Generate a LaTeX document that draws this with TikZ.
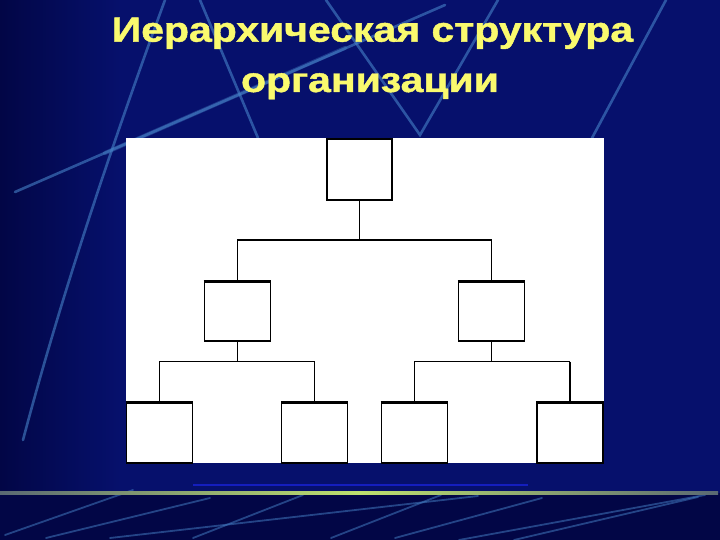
\documentclass[tikz,border=0pt]{standalone}
\usepackage{fontspec}
\setmainfont{Liberation Sans}
\newfontfamily\titlefont[FakeBold=1.2]{Liberation Sans Bold}
\usetikzlibrary{calc}
\definecolor{bgnavy}{RGB}{6,16,108}
\definecolor{bgdark}{RGB}{2,6,70}
\definecolor{streak}{RGB}{70,130,200}
\definecolor{titleyellow}{RGB}{250,250,110}
\definecolor{glineg}{RGB}{90,105,115}
\definecolor{gliney}{RGB}{190,225,110}
\tikzset{
  box/.style={draw=black, fill=white, line width=1.3pt, rectangle, inner sep=0pt},
  topbox/.style={box, minimum width=65pt, minimum height=61pt},
  midbox/.style={box, minimum width=66pt, minimum height=59pt},
  leafbox/.style={box, minimum width=66pt, minimum height=60pt},
  conn/.style={line width=1.3pt, black},
  bar/.style={line width=2pt, black},
  streakline/.style={draw=streak, line width=2.6pt, opacity=0.6, line cap=round},
  faint/.style={draw=streak, line width=1.8pt, opacity=0.5, line cap=round},
  titletext/.style={font=\fontsize{35}{40}\titlefont, anchor=base, inner sep=0pt, text=titleyellow}
}
\begin{document}
\begin{tikzpicture}[x=1pt,y=-1pt]
\useasboundingbox (0,0) rectangle (720,540);
% background
\fill[bgnavy] (0,0) rectangle (720,493);
\shade[left color=bgdark, right color=bgnavy] (0,0) rectangle (120,493);
\fill[bgdark] (0,493) rectangle (720,540);
% streaks
\draw[streakline] (165,0) .. controls (110,150) and (60,300) .. (23,440);
\draw[streakline] (15,192) -- (445,5);
\draw[streakline, line width=4pt, opacity=0.35] (105,153) -- (345,48);
\draw[streakline] (200,0) -- (258,138);
\draw[streakline] (326,0) -- (420,135) -- (498,0);
\draw[streakline] (666,0) -- (592,138);
% bottom streaks
\draw[faint] (5,535) -- (133,490);
\draw[faint] (46,538) -- (210,498);
\draw[faint] (110,538) -- (478,496);
\draw[faint] (193,538) -- (303,495);
\draw[faint] (331,538) -- (441,495);
\draw[faint] (395,538) -- (542,498);
\draw[faint] (459,540) -- (705,495);
\draw[faint] (514,540) -- (698,497);
% horizon lines
\draw[line width=1.5pt, draw={rgb,255:red,20;green,30;blue,190}] (193,485) -- (528,485);
\shade[left color=glineg, right color=glineg, middle color=gliney] (0,491.8) rectangle (718,494.2);
% title
\node[titletext] (t1) at (372.5,41.7) {\scalebox{1.17}[1]{Иерархическая структура}};
\node[titletext] (t2) at (370,92) {\scalebox{1.17}[1]{организации}};
% panel
\fill[white] (126,138) rectangle (604,463);
% boxes
\node[topbox] (top) at (359.5,169.5) {};
\node[midbox] (m1) at (237.3,311.5) {};
\node[midbox] (m2) at (491.5,311.5) {};
\node[leafbox] (l1) at (159.3,433) {};
\node[leafbox] (l2) at (314.7,433) {};
\node[leafbox] (l3) at (414.2,433) {};
\node[leafbox] (l4) at (570,433) {};
% thicker top edges
\foreach \n in {m1,m2,l1,l2,l3,l4} {\draw[bar] (\n.north west) -- (\n.north east);}
% connector levels
\coordinate (lev1) at (0,239.5);
\coordinate (lev2) at (0,361.7);
\draw[conn] (top.south) -- (top.south |- lev1);
\draw[bar] (m1.north |- lev1) -- (m2.north |- lev1);
\draw[conn] (m1.north |- lev1) -- (m1.north);
\draw[conn] (m2.north |- lev1) -- (m2.north);
\draw[conn] (m1.south) -- (m1.south |- lev2);
\draw[conn] (l1.north |- lev2) -- (l2.north |- lev2);
\draw[conn] (l1.north |- lev2) -- (l1.north);
\draw[conn] (l2.north |- lev2) -- (l2.north);
\draw[conn] (m2.south) -- (m2.south |- lev2);
\draw[conn] (l3.north |- lev2) -- (l4.north |- lev2);
\draw[conn] (l3.north |- lev2) -- (l3.north);
\draw[conn] (l4.north |- lev2) -- (l4.north);
\end{tikzpicture}
\end{document}
